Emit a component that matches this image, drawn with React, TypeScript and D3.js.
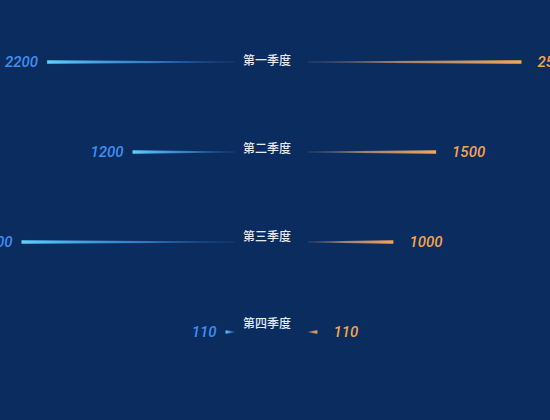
import React from 'react';
import * as d3 from 'd3';

const categories = ['第一季度', '第二季度', '第三季度', '第四季度'];
const leftValues = [2200, 1200, 2500, 110];
const rightValues = [2500, 1500, 1000, 110];

const W = 550;
const H = 420;

const App: React.FC = () => {
  const y = d3.scalePoint<string>().domain(categories).range([62, 332]);
  const yLabel = d3.scalePoint<string>().domain(categories).range([61, 324]);
  const xLeft = d3.scaleLinear().domain([0, 2500]).range([235, 21.5]);
  const xRight = d3.scaleLinear().domain([0, 2500]).range([308, 521.5]);

  // tapered bar: thick at the outer end, thin near the middle
  const taper = (x0: number, x1: number, cy: number) =>
    `M${x0},${cy - 0.6} L${x1},${cy - 1.8} L${x1},${cy + 1.8} L${x0},${cy + 0.6} Z`;

  return (
    <svg width={W} height={H} style={{ position: 'absolute', left: 0, top: 0, display: 'block' }}>
      <defs>
        <linearGradient id="gLeft" x1="0" x2="1" y1="0" y2="0">
          <stop offset="0%" stopColor="#5fd0ff" />
          <stop offset="55%" stopColor="#3d8fe0" stopOpacity={0.8} />
          <stop offset="100%" stopColor="#2f6fc0" stopOpacity={0.25} />
        </linearGradient>
        <linearGradient id="gRight" x1="1" x2="0" y1="0" y2="0">
          <stop offset="0%" stopColor="#f5a658" />
          <stop offset="55%" stopColor="#c99a70" stopOpacity={0.8} />
          <stop offset="100%" stopColor="#8a8a90" stopOpacity={0.25} />
        </linearGradient>
      </defs>
      <rect x={0} y={0} width={W} height={H} fill="#0b2c5f" />
      {categories.map((c, i) => {
        const cy = y(c) as number;
        const lx = xLeft(leftValues[i]);
        const rx = xRight(rightValues[i]);
        return (
          <g key={c}>
            <path d={taper(xLeft(0), lx, cy)} fill="url(#gLeft)" />
            <path d={taper(xRight(0), rx, cy)} fill="url(#gRight)" />
            <text
              x={lx - 9}
              y={cy}
              dy="0.36em"
              textAnchor="end"
              fill="#3f8ff0"
              fontFamily="Roboto, 'Liberation Sans', sans-serif"
              fontStyle="italic"
              fontWeight={500}
              fontSize={15}
            >
              {leftValues[i]}
            </text>
            <text
              x={rx + 16}
              y={cy}
              dy="0.36em"
              textAnchor="start"
              fill="#f5a34c"
              fontFamily="Roboto, 'Liberation Sans', sans-serif"
              fontStyle="italic"
              fontWeight={500}
              fontSize={15}
            >
              {rightValues[i]}
            </text>
            <text
              x={267}
              y={yLabel(c) as number}
              dy="0.36em"
              textAnchor="middle"
              fill="#e4eaf4"
              fontFamily="'Noto Sans CJK SC', sans-serif"
              fontWeight={500}
              fontSize={12}
            >
              {c}
            </text>
          </g>
        );
      })}
    </svg>
  );
};

export default App;
